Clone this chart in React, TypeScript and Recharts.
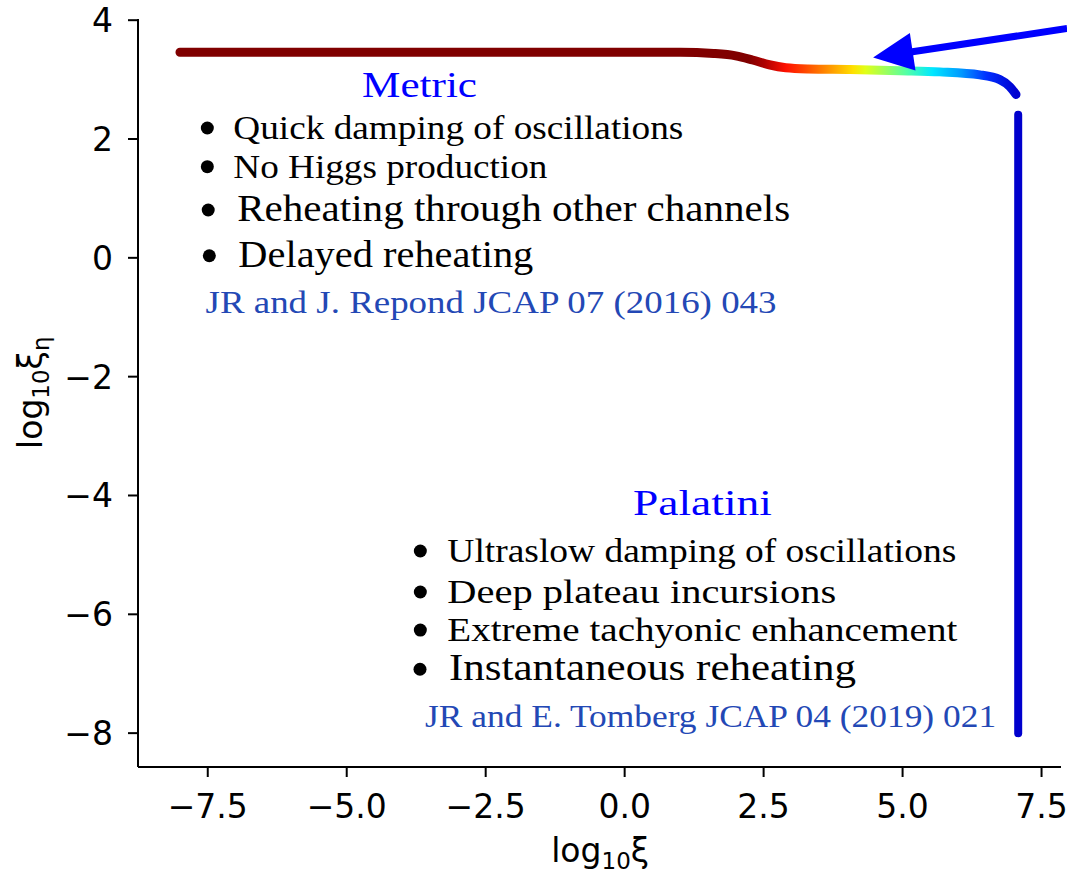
import React from 'react';
import { ComposedChart, Line, XAxis, YAxis, ReferenceDot, ReferenceLine } from 'recharts';

// upper branch of the track (log10 xi, log10 xi_eta)
const trackX = [-8.0, -4.0, -0.1, 1.0, 1.6, 2.0, 2.3, 2.6, 2.9, 3.3, 4.06, 4.95, 5.67, 6.39, 6.75, 6.93, 7.04];
const trackY = [3.46, 3.46, 3.46, 3.46, 3.44, 3.4, 3.33, 3.25, 3.2, 3.18, 3.17, 3.15, 3.13, 3.08, 3.0, 2.88, 2.75];
// vertical drop at large xi
const dropX = [7.08, 7.08];
const dropY = [2.41, -8.0];

const xTicks = [-7.5, -5, -2.5, 0, 2.5, 5, 7.5];
const yTicks = [-8, -6, -4, -2, 0, 2, 4];
const xDomain: [number, number] = [-8.755, 7.85];
const yDomain: [number, number] = [-8.57, 4.02];

const trackData = trackX.map((x, i) => ({ x, y: trackY[i] }));
const dropData = dropX.map((x, i) => ({ x, y: dropY[i] }));

const BLACK = '#000000';
const REF = '#2348b5';
const SERIF = '"Liberation Serif", "DejaVu Serif", serif';
const SANS = '"DejaVu Sans", sans-serif';

// text annotations placed in data coordinates
const notes = [
  { text: 'Metric', x: -3.69, y: 2.71, size: 36, width: 115, color: '#0000ff', anchor: 'middle' },
  { text: 'Quick damping of oscillations', x: -7.04, y: 2.0, size: 34, width: 450, bullet: 26 },
  { text: 'No Higgs production', x: -7.04, y: 1.35, size: 34, width: 314, bullet: 26 },
  { text: 'Reheating through other channels', x: -6.97, y: 0.62, size: 37, width: 553, bullet: 29 },
  { text: 'Delayed reheating', x: -6.95, y: -0.15, size: 37, width: 295, bullet: 29 },
  { text: 'JR and J. Repond JCAP 07 (2016) 043', x: -7.54, y: -0.93, size: 31, width: 571, color: REF },
  { text: 'Palatini', x: 1.4, y: -4.33, size: 36, width: 139, color: '#0000ff', anchor: 'middle' },
  { text: 'Ultraslow damping of oscillations', x: -3.19, y: -5.12, size: 34, width: 509, bullet: 27 },
  { text: 'Deep plateau incursions', x: -3.19, y: -5.81, size: 34, width: 389, bullet: 27 },
  { text: 'Extreme tachyonic enhancement', x: -3.19, y: -6.45, size: 34, width: 510, bullet: 27 },
  { text: 'Instantaneous reheating', x: -3.16, y: -7.11, size: 37, width: 407, bullet: 29 },
  { text: 'JR and E. Tomberg JCAP 04 (2019) 021', x: -3.59, y: -7.9, size: 31, width: 571, color: REF },
];

type Note = (typeof notes)[number];

const NoteShape = ({ cx, cy, note }: { cx?: number; cy?: number; note: Note }) => {
  if (cx == null || cy == null) return null;
  return (
    <g>
      {note.bullet && <circle cx={cx - note.bullet} cy={cy - 11} r={6.5} fill={BLACK} />}
      <text
        x={cx}
        y={cy}
        fontFamily={SERIF}
        fontSize={note.size}
        fill={note.color || BLACK}
        textAnchor={(note.anchor as any) || 'start'}
        textLength={note.width}
        lengthAdjust="spacingAndGlyphs"
      >
        {note.text}
      </text>
    </g>
  );
};

const Arrow = (props: any) => {
  const { x1, y1, x2, y2 } = props;
  const dx = x2 - x1;
  const dy = y2 - y1;
  const len = Math.sqrt(dx * dx + dy * dy) || 1;
  const ux = dx / len;
  const uy = dy / len;
  const head = 40;
  const half = 19;
  const bx = x2 - ux * head;
  const by = y2 - uy * head;
  return (
    <g>
      <line x1={x1} y1={y1} x2={bx + ux * 2} y2={by + uy * 2} stroke="#0000ff" strokeWidth={7} />
      <polygon
        points={`${x2},${y2} ${bx - uy * half},${by + ux * half} ${bx + uy * half},${by - ux * half}`}
        fill="#0000ff"
      />
    </g>
  );
};

const fmtX = (v: number) => v.toFixed(1).replace('-', '\u2212');
const fmtY = (v: number) => String(v).replace('-', '\u2212');

const XTick = (props: any) => {
  const { x, y, payload } = props;
  return (
    <text x={x} y={y} dy={41} textAnchor="middle" fontFamily={SANS} fontSize={33} fill={BLACK}>
      {fmtX(payload.value)}
    </text>
  );
};

const YTick = (props: any) => {
  const { x, y, payload } = props;
  return (
    <text x={x} y={y} dy={12} textAnchor="end" fontFamily={SANS} fontSize={33} fill={BLACK}>
      {fmtY(payload.value)}
    </text>
  );
};

const XTitle = ({ cx, cy }: { cx?: number; cy?: number }) => (
  <text x={cx} y={cy} textAnchor="middle" fontFamily={SANS} fontSize={33} fill={BLACK}>
    log
    <tspan fontSize={23} dy={7}>10</tspan>
    <tspan dy={-7}>ξ</tspan>
  </text>
);

const YTitle = ({ cx, cy }: { cx?: number; cy?: number }) => (
  <text
    x={cx}
    y={cy}
    transform={`rotate(-90 ${cx} ${cy})`}
    textAnchor="middle"
    fontFamily={SANS}
    fontSize={33}
    fill={BLACK}
  >
    log
    <tspan fontSize={23} dy={7}>10</tspan>
    <tspan dy={-7}>ξ</tspan>
    <tspan fontSize={23} dy={7}>η</tspan>
  </text>
);

export default function App() {
  return (
    <div style={{ position: 'absolute', left: 0, top: 0, background: '#fff' }}>
      <ComposedChart width={1067} height={874} margin={{ top: 19, right: 6, bottom: 0, left: 0 }}>
        <defs>
          <linearGradient id="jet" x1="0" y1="0" x2="1" y2="0">
            <stop offset="0" stopColor="#800000" />
            <stop offset="0.68" stopColor="#800000" />
            <stop offset="0.70" stopColor="#b00000" />
            <stop offset="0.725" stopColor="#ff1000" />
            <stop offset="0.745" stopColor="#ff4000" />
            <stop offset="0.775" stopColor="#ff9000" />
            <stop offset="0.805" stopColor="#ffe000" />
            <stop offset="0.82" stopColor="#e0ff18" />
            <stop offset="0.837" stopColor="#b0ff48" />
            <stop offset="0.87" stopColor="#50ffa8" />
            <stop offset="0.90" stopColor="#00e8ff" />
            <stop offset="0.935" stopColor="#0098ff" />
            <stop offset="0.965" stopColor="#0030ff" />
            <stop offset="1" stopColor="#0000d0" />
          </linearGradient>
        </defs>
        <XAxis
          xAxisId="top"
          orientation="top"
          dataKey="x"
          type="number"
          domain={xDomain}
          allowDataOverflow
          height={0}
          tick={false}
          tickLine={false}
          axisLine={{ stroke: BLACK, strokeWidth: 2 }}
        />
        <YAxis
          yAxisId="right"
          orientation="right"
          type="number"
          domain={yDomain}
          allowDataOverflow
          width={0}
          tick={false}
          tickLine={false}
          axisLine={{ stroke: BLACK, strokeWidth: 2 }}
        />
        <XAxis
          dataKey="x"
          type="number"
          domain={xDomain}
          ticks={xTicks}
          allowDataOverflow
          height={107}
          tickSize={10}
          tickMargin={0}
          tick={<XTick />}
          tickLine={{ stroke: BLACK, strokeWidth: 2 }}
          axisLine={{ stroke: BLACK, strokeWidth: 2 }}
        />
        <YAxis
          type="number"
          domain={yDomain}
          ticks={yTicks}
          allowDataOverflow
          width={138}
          tickSize={10}
          tickMargin={15}
          tick={<YTick />}
          tickLine={{ stroke: BLACK, strokeWidth: 2 }}
          axisLine={{ stroke: BLACK, strokeWidth: 2 }}
        />
        <Line
          data={trackData}
          dataKey="y"
          type="monotone"
          stroke="url(#jet)"
          strokeWidth={9}
          strokeLinecap="round"
          dot={false}
          activeDot={false}
          isAnimationActive={false}
        />
        <Line
          data={dropData}
          dataKey="y"
          type="linear"
          stroke="#0000cd"
          strokeWidth={8}
          strokeLinecap="round"
          dot={false}
          activeDot={false}
          isAnimationActive={false}
        />
        {notes.map((n, i) => (
          <ReferenceDot
            key={i}
            x={n.x}
            y={n.y}
            r={0}
            ifOverflow="visible"
            shape={(p: any) => <NoteShape cx={p.cx} cy={p.cy} note={n} />}
          />
        ))}
        <ReferenceLine
          segment={[
            { x: 7.96, y: 3.86 },
            { x: 4.47, y: 3.37 },
          ]}
          ifOverflow="visible"
          shape={Arrow}
        />
        <ReferenceDot x={-0.44} y={-10.17} r={0} ifOverflow="visible" shape={(p: any) => <XTitle cx={p.cx} cy={p.cy} />} />
        <ReferenceDot x={-10.49} y={-2.27} r={0} ifOverflow="visible" shape={(p: any) => <YTitle cx={p.cx} cy={p.cy} />} />
      </ComposedChart>
    </div>
  );
}
